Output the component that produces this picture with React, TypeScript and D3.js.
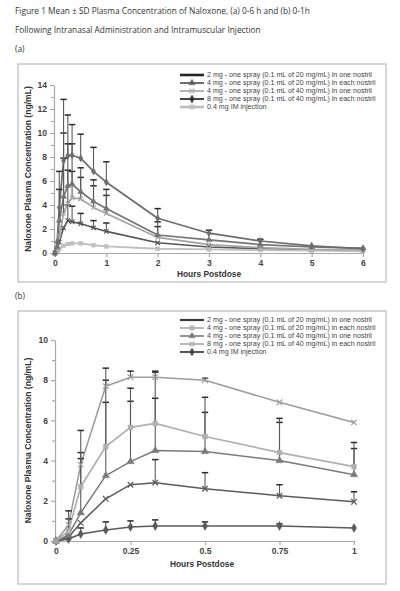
import { useEffect, useRef } from "react";
import * as d3 from "d3";

// sampling times (hours)
const HOURS_A = [0, 0.042, 0.083, 0.167, 0.25, 0.333, 0.5, 0.75, 1, 2, 3, 4, 5, 6];
const HOURS_B = [0, 0.042, 0.083, 0.167, 0.25, 0.333, 0.5, 0.75, 1];

const DOSE_LABELS = [
    "2 mg - one spray (0.1 mL of 20 mg/mL) in one nostril",
    "4 mg - one spray (0.1 mL of 20 mg/mL) in each nostril",
    "4 mg - one spray (0.1 mL of 40 mg/mL) in one nostril",
    "8 mg - one spray (0.1 mL of 40 mg/mL) in each nostril",
    "0.4 mg IM injection",
];

const A_TICKS_X = [0, 1, 2, 3, 4, 5, 6];
const A_TICKS_Y = [0, 2, 4, 6, 8, 10, 12, 14];
const B_TICKS_X = [0, 0.25, 0.5, 0.75, 1];
const B_TICKS_Y = [0, 2, 4, 6, 8, 10];

// (a) 0-6 h, mean and SD (ng/mL)
const A_2MG = [0, 0.2, 0.9, 2.1, 2.7, 2.6, 2.45, 2.1, 1.8, 0.85, 0.5, 0.35, 0.25];
const A_2MG_SD = [0, 0, 0, 0, 1.3, 1.3, 0.85, 0.6, 0.7, 0, 0, 0, 0];
const A_4MG_EACH = [0, 0.5, 2.7, 4.7, 5.6, 5.75, 5.1, 4.3, 3.7, 1.5, 1.1, 0.7, 0.5, 0.4];
const A_4MG_EACH_SD = [0, 0, 2.6, 5.3, 3.5, 3.35, 2.0, 1.8, 1.6, 1.1, 0, 0, 0, 0];
const A_4MG_ONE = [0, 0.3, 1.4, 3.3, 4.1, 4.6, 4.5, 3.8, 3.3, 1.3, 0.7, 0.45, 0.3, 0.25];
const A_4MG_ONE_SD = [0, 0, 0, 4.6, 2.8, 2.2, 1.8, 1.8, 1.5, 0.9, 0, 0, 0, 0];
const A_8MG = [0, 0.9, 3.8, 7.7, 8.1, 8.15, 7.9, 6.8, 5.9, 2.9, 1.65, 1.0, 0.6, 0.35];
const A_8MG_SD = [0, 0, 3.0, 5.1, 3.4, 2.55, 2.0, 2.0, 1.7, 0.8, 0.25, 0.15, 0, 0];
const A_IM = [0, 0.1, 0.35, 0.6, 0.75, 0.8, 0.8, 0.65, 0.55, 0.35, 0.3, 0.25, 0.2, 0.15];
const A_IM_SD = [0, 0, 0, 0, 0, 0, 0, 0, 0, 0, 0, 0, 0, 0];

// (b) 0-1 h
const B_2MG = [0, 0.2, 0.9, 2.1, 2.8, 2.9, 2.6, 2.25, 1.95];
const B_2MG_SD = [0, 0, 0, 0, 0, 1.15, 0.8, 0.55, 0.5];
const B_4MG_EACH = [0, 0.5, 2.7, 4.7, 5.65, 5.85, 5.2, 4.4, 3.7];
const B_4MG_EACH_SD = [0, 0.6, 1.7, 3.3, 1.95, 2.55, 1.95, 1.7, 1.2];
const B_4MG_ONE = [0, 0.3, 1.4, 3.25, 3.95, 4.5, 4.45, 4.0, 3.3];
const B_4MG_ONE_SD = [0, 0, 2.7, 3.65, 3.0, 2.6, 1.95, 1.9, 1.3];
const B_8MG = [0, 0.8, 3.8, 7.7, 8.15, 8.15, 8.0, 6.9, 5.9];
const B_8MG_SD = [0, 0.7, 1.7, 0.9, 0.3, 0.3, 0.1, 0, 0];
const B_IM = [0, 0.1, 0.35, 0.55, 0.7, 0.75, 0.75, 0.75, 0.65];
const B_IM_SD = [0, 0, 0.3, 0.4, 0.3, 0.3, 0.2, 0.1, 0];

type Marker = "times" | "triangle" | "diamond" | "square" | null;
type Style = { color: string; marker: Marker; width: number };
type Series = Style & { values: number[]; sd: number[] };

const AXIS_FONT = "'Liberation Sans Narrow', 'Liberation Sans', Arial, sans-serif";
const TEXT_FONT = "'Open Sans', 'Noto Sans', sans-serif";

function symbolPath(marker: Marker, size: number) {
    if (marker === "times") return d3.symbol(d3.symbolTimes, size)();
    if (marker === "triangle") return d3.symbol(d3.symbolTriangle, size)();
    if (marker === "diamond") return d3.symbol(d3.symbolDiamond, size)();
    if (marker === "square") return d3.symbol(d3.symbolSquare, size)();
    return null;
}

function MarkerMark({ x, y, style, size }: { x: number; y: number; style: Style; size: number }) {
    const d = symbolPath(style.marker, style.marker === "times" ? size * 0.9 : size);
    if (!d) return null;
    const stroked = style.marker === "times";
    return (
        <path
            d={d}
            transform={`translate(${x},${y})`}
            fill={stroked ? "none" : style.color}
            stroke={style.color}
            strokeWidth={stroked ? 1.2 : 0.4}
        />
    );
}

function Panel(props: {
    box: [number, number, number, number];
    hours: number[];
    xDomain: [number, number];
    xRange: [number, number];
    yDomain: [number, number];
    yRange: [number, number];
    xTicks: number[];
    yTicks: number[];
    series: Series[];
    legend: Style[];
    legendTop: number;
    markerSize: number;
    xTitleX: number;
    xTitleY: number;
}) {
    const xAxisRef = useRef<SVGGElement>(null);
    const yAxisRef = useRef<SVGGElement>(null);
    const yMinorRef = useRef<SVGGElement>(null);

    const x = d3.scaleLinear().domain(props.xDomain).range(props.xRange);
    const y = d3.scaleLinear().domain(props.yDomain).range(props.yRange);

    useEffect(() => {
        const xAxis = d3
            .axisBottom(x)
            .tickValues(props.xTicks)
            .tickFormat((d: any) => String(d))
            .tickSizeInner(4)
            .tickSizeOuter(0)
            .tickPadding(3);
        const gx = d3.select(xAxisRef.current).call(xAxis as any);
        const yAxis = d3.axisLeft(y).tickValues(props.yTicks).tickSizeInner(4).tickSizeOuter(0).tickPadding(3);
        const gy = d3.select(yAxisRef.current).call(yAxis as any);
        // unlabelled ticks between the labelled ones
        const minor = d3.range(props.yDomain[0] + 1, props.yDomain[1], 2);
        const gm = d3
            .select(yMinorRef.current)
            .call(d3.axisLeft(y).tickValues(minor).tickSizeInner(3).tickSizeOuter(0).tickFormat(() => "") as any);
        gm.select(".domain").remove();
        for (const g of [gx, gy, gm]) {
            g.selectAll(".domain, .tick line").attr("stroke", "#a8a8a8").attr("stroke-width", 1.2);
            g.selectAll(".tick text")
                .attr("fill", "#444")
                .style("font-family", AXIS_FONT)
                .style("font-weight", "bold")
                .style("font-size", "8.6px");
        }
    });

    const [bx, by, bw, bh] = props.box;
    const plotMid = (props.yRange[0] + props.yRange[1]) / 2;
    const capHalf = 3.2;

    return (
        <g>
            <rect x={bx} y={by} width={bw} height={bh} fill="#fff" stroke="#c8c8c8" strokeWidth={1.5} />
            <g ref={xAxisRef} transform={`translate(0,${props.yRange[0]})`} />
            <g ref={yAxisRef} transform={`translate(${props.xRange[0] - 1},0)`} />
            <g ref={yMinorRef} transform={`translate(${props.xRange[0] - 1},0)`} />

            {props.series.map((s, i) => {
                const pts = s.values.map((v, j) => [x(props.hours[j]), y(v)] as [number, number]);
                return (
                    <path
                        key={"l" + i}
                        d={d3.line()(pts) || ""}
                        fill="none"
                        stroke={s.color}
                        strokeWidth={s.width}
                        strokeLinejoin="round"
                    />
                );
            })}

            {props.series.map((s, i) => (
                <g key={"e" + i}>
                    {s.values.map((v, j) =>
                        s.sd[j] > 0 ? (
                            <g key={j}>
                                <line
                                    x1={x(props.hours[j])}
                                    x2={x(props.hours[j])}
                                    y1={y(v)}
                                    y2={y(v + s.sd[j])}
                                    stroke="#5a5a5a"
                                    strokeWidth={1.1}
                                />
                                <line
                                    x1={x(props.hours[j]) - capHalf}
                                    x2={x(props.hours[j]) + capHalf}
                                    y1={y(v + s.sd[j])}
                                    y2={y(v + s.sd[j])}
                                    stroke="#2a2a2a"
                                    strokeWidth={1.5}
                                />
                            </g>
                        ) : null
                    )}
                </g>
            ))}

            {props.series.map((s, i) => (
                <g key={"m" + i}>
                    {s.values.map((v, j) => (
                        <MarkerMark key={j} x={x(props.hours[j])} y={y(v)} style={s} size={props.markerSize} />
                    ))}
                </g>
            ))}

            {props.legend.map((st, i) => {
                const ly = props.legendTop + i * 8;
                return (
                    <g key={"g" + i}>
                        <line x1={180} x2={204} y1={ly} y2={ly} stroke={st.color} strokeWidth={st.width} />
                        <MarkerMark x={192} y={ly} style={st} size={18} />
                        <text
                            x={207}
                            y={ly + 2.4}
                            fontFamily="'Liberation Sans', Arial, sans-serif"
                            fontSize={7.1}
                            fill="#444"
                        >
                            {DOSE_LABELS[i]}
                        </text>
                    </g>
                );
            })}

            <text
                x={props.xTitleX}
                y={props.xTitleY}
                textAnchor="middle"
                fontFamily={AXIS_FONT}
                fontWeight="bold"
                fontSize={8.4}
                fill="#333"
            >
                Hours Postdose
            </text>
            <text
                transform={`translate(31,${plotMid}) rotate(-90)`}
                textAnchor="middle"
                fontFamily={AXIS_FONT}
                fontWeight="bold"
                fontSize={8.6}
                fill="#333"
            >
                Naloxone Plasma Concentration (ng/mL)
            </text>
        </g>
    );
}

function App() {
    const seriesA: Series[] = [
        { values: A_2MG, sd: A_2MG_SD, color: "#555", marker: "times", width: 1.6 },
        { values: A_IM, sd: A_IM_SD, color: "#c0c0c0", marker: "square", width: 1.9 },
        { values: A_4MG_ONE, sd: A_4MG_ONE_SD, color: "#a4a4a4", marker: "times", width: 1.7 },
        { values: A_4MG_EACH, sd: A_4MG_EACH_SD, color: "#737373", marker: "triangle", width: 1.7 },
        { values: A_8MG, sd: A_8MG_SD, color: "#6c6c6c", marker: "diamond", width: 1.7 },
    ];
    const legendA: Style[] = [
        { color: "#262626", marker: null, width: 2.6 },
        { color: "#5e5e5e", marker: "triangle", width: 1.8 },
        { color: "#adadad", marker: "times", width: 1.8 },
        { color: "#333", marker: "diamond", width: 1.8 },
        { color: "#bdbdbd", marker: "square", width: 2.6 },
    ];
    const seriesB: Series[] = [
        { values: B_IM, sd: B_IM_SD, color: "#5a5a5a", marker: "diamond", width: 1.5 },
        { values: B_2MG, sd: B_2MG_SD, color: "#5a5a5a", marker: "times", width: 1.5 },
        { values: B_4MG_ONE, sd: B_4MG_ONE_SD, color: "#7a7a7a", marker: "triangle", width: 1.5 },
        { values: B_4MG_EACH, sd: B_4MG_EACH_SD, color: "#b0b0b0", marker: "square", width: 1.7 },
        { values: B_8MG, sd: B_8MG_SD, color: "#9c9c9c", marker: "times", width: 1.6 },
    ];
    const legendB: Style[] = [
        { color: "#3a3a3a", marker: null, width: 2.2 },
        { color: "#b0b0b0", marker: "square", width: 1.8 },
        { color: "#7a7a7a", marker: "triangle", width: 1.6 },
        { color: "#a8a8a8", marker: "times", width: 1.6 },
        { color: "#444", marker: "diamond", width: 1.8 },
    ];

    return (
        <svg
            width={400}
            height={591}
            style={{ position: "absolute", left: 0, top: 0, background: "#fff" }}
        >
            <text x={15} y={14} fontFamily={TEXT_FONT} fontSize={8.3} fill="#333">
                Figure 1 Mean ± SD Plasma Concentration of Naloxone, (a) 0-6 h and (b) 0-1h
            </text>
            <text x={15} y={33} fontFamily={TEXT_FONT} fontSize={8.3} fill="#333">
                Following Intranasal Administration and Intramuscular Injection
            </text>
            <text x={15} y={52} fontFamily={TEXT_FONT} fontSize={8.3} fill="#333">
                (a)
            </text>
            <text x={15} y={299} fontFamily={TEXT_FONT} fontSize={8.3} fill="#333">
                (b)
            </text>

            <Panel
                box={[18, 64, 368, 218]}
                hours={HOURS_A}
                xDomain={[0, 6]}
                xRange={[55, 363]}
                yDomain={[0, 14]}
                yRange={[253, 85]}
                xTicks={A_TICKS_X}
                yTicks={A_TICKS_Y}
                series={seriesA}
                legend={legendA}
                legendTop={75}
                markerSize={16}
                xTitleX={209}
                xTitleY={277}
            />
            <Panel
                box={[18, 311, 368, 273]}
                hours={HOURS_B}
                xDomain={[0, 1]}
                xRange={[56, 354]}
                yDomain={[0, 10]}
                yRange={[541, 340]}
                xTicks={B_TICKS_X}
                yTicks={B_TICKS_Y}
                series={seriesB}
                legend={legendB}
                legendTop={320}
                markerSize={24}
                xTitleX={202}
                xTitleY={567}
            />
        </svg>
    );
}

export default App;
